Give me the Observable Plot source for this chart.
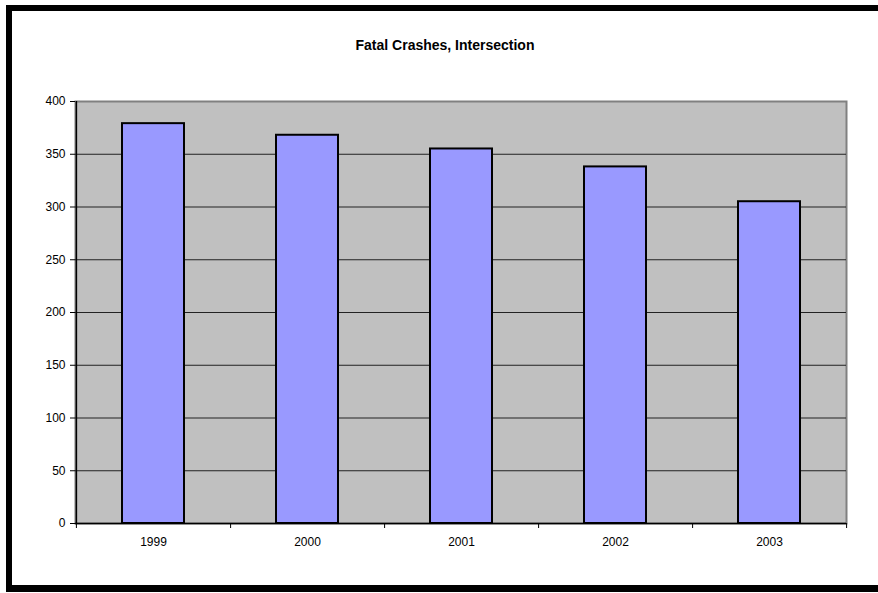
<!DOCTYPE html>
<html>
<head>
<meta charset="utf-8">
<script src="https://cdn.jsdelivr.net/npm/d3@7"></script>
<script src="https://cdn.jsdelivr.net/npm/@observablehq/plot@0.6"></script>
<style>
  html, body { margin: 0; padding: 0; background: #fff; }
  #wrap { position: relative; width: 878px; height: 593px; overflow: hidden; font-family: Arial, "Liberation Sans", sans-serif; }
  #frame { position: absolute; left: 6px; top: 5px; width: 880px; height: 587px; box-sizing: border-box;
           border-top: 6px solid #000; border-left: 6px solid #000; border-bottom: 7px solid #000; }
  #title { position: absolute; left: 0; width: 890px; top: 37px; line-height: 16px; text-align: center; font-weight: bold; font-size: 14px; color: #000; }
  #chart { position: absolute; left: 0; top: 0; }
</style>
</head>
<body>
<div id="wrap">
  <div id="chart"></div>
  <div id="frame"></div>
  <div id="title">Fatal Crashes, Intersection</div>
</div>
<script>
const years = ["1999", "2000", "2001", "2002", "2003"];
const crashes = [379, 368, 355, 338, 305];
const yTicks = [0, 50, 100, 150, 200, 250, 300, 350, 400];
const gridValues = [50, 100, 150, 200, 250, 300, 350];

const data = years.map((y, i) => ({year: y, value: crashes[i]}));

const W = 878, H = 593, ML = 75, MR = 32, MT = 101, MB = 70;
const paddingInner = 0.6, paddingOuter = 0.3;
const step = (W - ML - MR) / (years.length - paddingInner + 2 * paddingOuter);

const chart = Plot.plot({
  width: W,
  height: H,
  marginLeft: ML,
  marginRight: MR,
  marginTop: MT,
  marginBottom: MB,
  style: {fontFamily: "Arial, 'Liberation Sans', sans-serif", fontSize: "12px", color: "#000", background: "transparent"},
  x: {domain: years, type: "band", paddingInner, paddingOuter, label: null},
  y: {domain: [0, 400], label: null},
  marks: [
    Plot.frame({fill: "#c0c0c0", stroke: "#808080", strokeWidth: 2}),
    Plot.ruleY(gridValues, {stroke: "#222", strokeWidth: 1}),
    Plot.barY(data, {x: "year", y: "value", fill: "#9999ff", stroke: "#000", strokeWidth: 2}),
    Plot.ruleY([0], {stroke: "#000", strokeWidth: 1.5}),
    Plot.ruleX([years[0]], {dx: -step / 2, stroke: "#000", strokeWidth: 1.5}),
    Plot.axisY({ticks: yTicks, tickSize: 5, tickPadding: 5, label: null, fontSize: 12}),
    Plot.axisX({tickSize: 5, tickFormat: () => "", label: null, dx: step / 2}),
    Plot.axisX([years[0]], {tickSize: 5, tickFormat: () => "", label: null, dx: -step / 2}),
    Plot.axisX({tickSize: 0, tickPadding: 14, label: null, fontSize: 12})
  ]
});
document.getElementById("chart").appendChild(chart);
</script>
</body>
</html>
